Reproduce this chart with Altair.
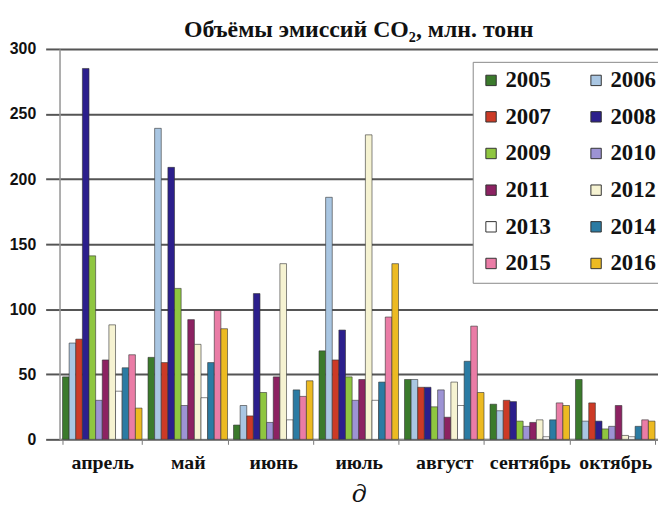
import altair as alt
import pandas as pd

months = ["апрель", "май", "июнь", "июль", "август", "сентябрь", "октябрь"]
years = ["2005", "2006", "2007", "2008", "2009", "2010",
         "2011", "2012", "2013", "2014", "2015", "2016"]
colors = ["#3b7a2c", "#a9c6e2", "#cc3a26", "#2c1f8c", "#8fc640", "#9d93d4",
          "#8c2262", "#f6f3d2", "#ffffff", "#2b7ba3", "#ea7ca6", "#ecba22"]

v2005 = [48, 63, 11, 68, 46, 27, 46]
v2006 = [74, 239, 26, 186, 46, 22, 14]
v2007 = [77, 59, 18, 61, 40, 30, 28]
v2008 = [285, 209, 112, 84, 40, 29, 14]
v2009 = [141, 116, 36, 48, 25, 14, 8]
v2010 = [30, 26, 13, 30, 38, 10, 10]
v2011 = [61, 92, 48, 46, 17, 13, 26]
v2012 = [88, 73, 135, 234, 44, 15, 3]
v2013 = [37, 32, 15, 30, 26, 2, 2]
v2014 = [55, 59, 38, 44, 60, 15, 10]
v2015 = [65, 99, 33, 94, 87, 28, 15]
v2016 = [24, 85, 45, 135, 36, 26, 14]

series = [v2005, v2006, v2007, v2008, v2009, v2010,
          v2011, v2012, v2013, v2014, v2015, v2016]

rows = []
for yr, vals in zip(years, series):
    for m, v in zip(months, vals):
        rows.append({"month": m, "year": yr, "value": v})
df = pd.DataFrame(rows)

# legend fills column by column: order domain so rows read 2005 2006 / 2007 2008 ...
legend_order = years[0::2] + years[1::2]
legend_colors = [colors[years.index(y)] for y in legend_order]

chart = alt.Chart(df).mark_bar(stroke="#333333", strokeWidth=0.6).encode(
    x=alt.X("month:N", sort=months,
            scale=alt.Scale(paddingInner=0.07, paddingOuter=0.035),
            axis=alt.Axis(title="д", labelAngle=0, tickBand="extent",
                          labelFont="Liberation Serif", labelFontSize=20,
                          labelFontWeight="bold", labelColor="#111111",
                          labelPadding=8, tickSize=5, tickColor="#777777",
                          domainColor="#888888", domainWidth=1.5,
                          titleFont="DejaVu Serif", titleFontStyle="italic",
                          titleFontSize=24, titleFontWeight="normal",
                          titleColor="#111111", titlePadding=11)),
    xOffset=alt.XOffset("year:N", sort=years,
                        scale=alt.Scale(paddingInner=0, paddingOuter=0)),
    y=alt.Y("value:Q", scale=alt.Scale(domain=[0, 300], nice=False),
            axis=alt.Axis(title=None, values=[0, 50, 100, 150, 200, 250, 300],
                          labelFont="Liberation Sans", labelFontSize=16,
                          labelFontWeight="bold", labelColor="#111111",
                          labelPadding=10, tickSize=14, tickColor="#555555",
                          tickWidth=2, gridColor="#555555", gridWidth=2,
                          domainColor="#999999", domainWidth=1.5)),
    color=alt.Color("year:N",
                    scale=alt.Scale(domain=legend_order, range=legend_colors),
                    legend=alt.Legend(title=None, orient="none",
                                      legendX=417, legendY=13,
                                      columns=2, columnPadding=34,
                                      rowPadding=13, symbolType="square",
                                      symbolSize=110, symbolStrokeColor="#333333",
                                      symbolStrokeWidth=1,
                                      labelFont="Liberation Serif",
                                      labelFontSize=23, labelFontWeight="bold",
                                      labelColor="#111111", labelOffset=3,
                                      padding=7, fillColor="#ffffff",
                                      strokeColor="#888888")),
).properties(
    width=604,
    height=394,
    title=alt.TitleParams("Объёмы эмиссий CO₂, млн. тонн",
                          font="Liberation Serif", fontSize=24,
                          fontWeight="bold", color="#111111", offset=6, dy=7),
    autosize=alt.AutoSizeParams(type="none"),
    padding={"left": 52, "top": 39, "right": 0, "bottom": 72},
).configure_view(stroke=None).configure(background="#ffffff")

chart.save("out.html", embed_options={"renderer": "svg", "actions": False})
